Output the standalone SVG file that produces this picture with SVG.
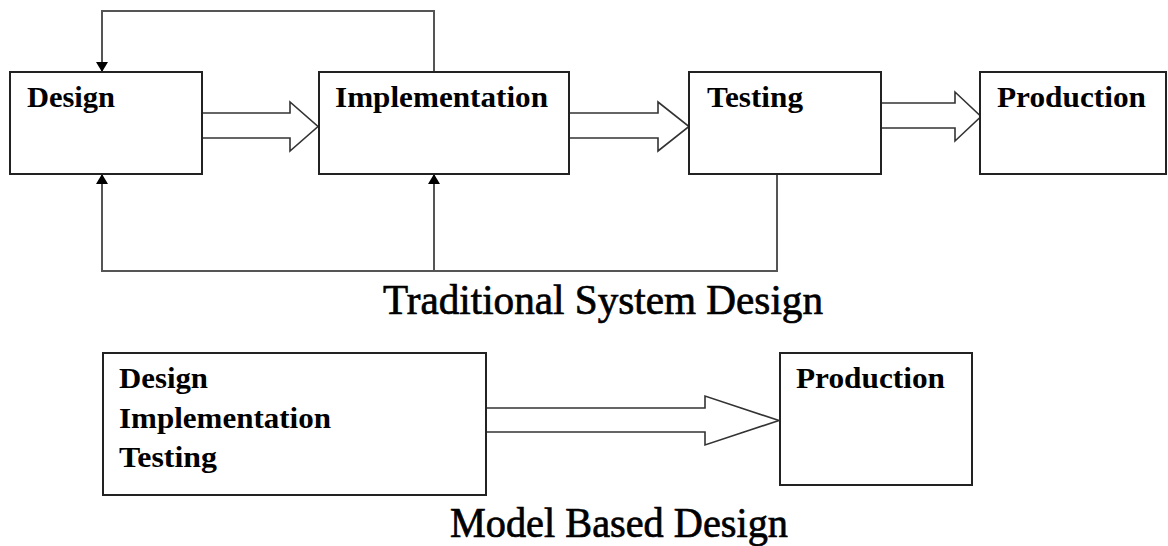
<svg xmlns="http://www.w3.org/2000/svg" width="1168" height="546" viewBox="0 0 1168 546">
<style>
.box{fill:#fff;stroke:#222;stroke-width:2}
.lbl{font-family:"Liberation Serif","Times New Roman",serif;font-weight:bold;font-size:30px;fill:#000}
.title{font-family:"Liberation Serif","Times New Roman",serif;font-size:42px;fill:#000;stroke:#000;stroke-width:0.7}
.blk{fill:#fff;stroke:#333;stroke-width:1.6;stroke-linejoin:miter}
.fb{fill:none;stroke:#555;stroke-width:2}
</style>
<defs>
<marker id="ah" viewBox="0 0 10 12" refX="10" refY="6" markerWidth="10" markerHeight="12" markerUnits="userSpaceOnUse" orient="auto">
<path d="M0,0 L10,6 L0,12 Z" fill="#000"/>
</marker>
</defs>
<g id="connectors">
<polygon class="blk" points="202,113 290,113 290,102 318,126.5 290,151 290,138 202,138"/>
<polygon class="blk" points="569,113 658,113 658,102 689,126.5 658,151 658,138 569,138"/>
<polygon class="blk" points="881,103 955,103 955,92 981,116.5 955,141 955,128 881,128"/>
<polygon class="blk" points="486,408 705,408 705,396 779,420.5 705,445 705,432 486,432"/>
<polyline class="fb" points="434,72 434,11 102,11 102,72" marker-end="url(#ah)"/>
<polyline class="fb" points="777,174 777,271 102,271 102,174" marker-end="url(#ah)"/>
<polyline class="fb" points="434,271 434,174" marker-end="url(#ah)"/>
</g>
<g id="design">
<rect class="box" x="10" y="72" width="192" height="102"/>
<text class="lbl" x="27" y="107" textLength="88" lengthAdjust="spacingAndGlyphs">Design</text>
</g>
<g id="implementation">
<rect class="box" x="319" y="72" width="250" height="102"/>
<text class="lbl" x="335" y="107" textLength="213" lengthAdjust="spacingAndGlyphs">Implementation</text>
</g>
<g id="testing">
<rect class="box" x="689" y="72" width="192" height="102"/>
<text class="lbl" x="707" y="107" textLength="96" lengthAdjust="spacingAndGlyphs">Testing</text>
</g>
<g id="production">
<rect class="box" x="980" y="72" width="186" height="102"/>
<text class="lbl" x="997" y="107" textLength="149" lengthAdjust="spacingAndGlyphs">Production</text>
</g>
<text class="title" x="383" y="314" textLength="440" lengthAdjust="spacingAndGlyphs">Traditional System  Design</text>
<g id="mbd-combined">
<rect class="box" x="103" y="353" width="383" height="142"/>
<text class="lbl" x="119" y="388" textLength="89" lengthAdjust="spacingAndGlyphs">Design</text>
<text class="lbl" x="119" y="428" textLength="212" lengthAdjust="spacingAndGlyphs">Implementation</text>
<text class="lbl" x="119" y="467" textLength="98" lengthAdjust="spacingAndGlyphs">Testing</text>
</g>
<g id="mbd-production">
<rect class="box" x="780" y="353" width="192" height="132"/>
<text class="lbl" x="796" y="388" textLength="149" lengthAdjust="spacingAndGlyphs">Production</text>
</g>
<text class="title" x="450" y="537" font-size="40" textLength="338" lengthAdjust="spacingAndGlyphs">Model Based Design</text>
</svg>
